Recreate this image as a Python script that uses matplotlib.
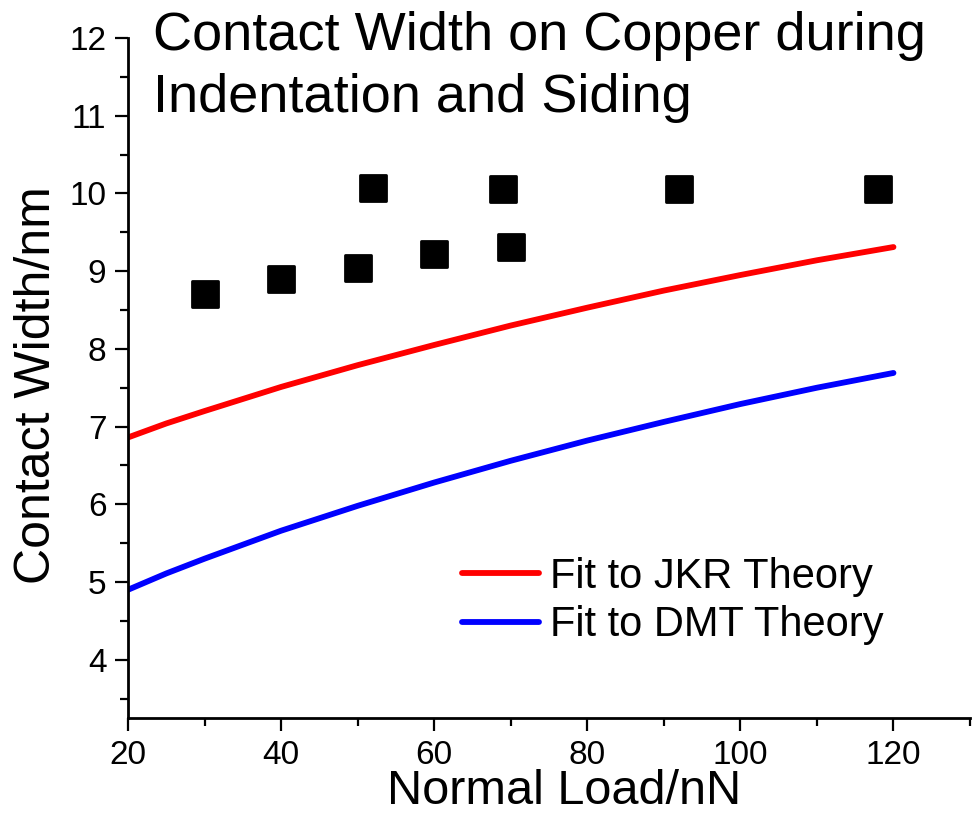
import numpy as np
import matplotlib
matplotlib.use("Agg")
import matplotlib.pyplot as plt
from matplotlib.markers import MarkerStyle
from matplotlib.ticker import MultipleLocator

plt.rcParams["font.family"] = ["Liberation Sans", "DejaVu Sans"]

# ── data ─────────────────────────────────────────────────────────────────────

# measured contact width (squares)
load_pts = [30, 40, 50, 60, 70, 52, 69, 92, 118]
width_pts = [8.70, 8.90, 9.04, 9.22, 9.31, 10.07, 10.06, 10.06, 10.06]

# fitted curves
load_fit = [20, 25, 30, 40, 50, 60, 70, 80, 90, 100, 110, 120]
jkr_fit = [6.86, 7.04, 7.20, 7.51, 7.79, 8.05, 8.30, 8.53, 8.75, 8.95, 9.14, 9.31]
dmt_fit = [4.90, 5.11, 5.30, 5.66, 5.98, 6.28, 6.56, 6.82, 7.06, 7.29, 7.50, 7.69]

TITLE = "Contact Width on Copper during\nIndentation and Siding"

# ── plot ─────────────────────────────────────────────────────────────────────

fig = plt.figure(figsize=(9.72, 8.27), dpi=100)
ax = fig.add_axes([128 / 972, 1 - 718 / 827, 842 / 972, 680 / 827])

ax.plot(load_fit, jkr_fit, color="#ff0000", linewidth=4.2,
        solid_capstyle="round", solid_joinstyle="round",
        label="Fit to JKR Theory")
ax.plot(load_fit, dmt_fit, color="#0000ff", linewidth=4.2,
        solid_capstyle="round", solid_joinstyle="round",
        label="Fit to DMT Theory")
ax.plot(load_pts, width_pts, linestyle="none",
        marker=MarkerStyle("s", joinstyle="round"), markersize=19,
        markerfacecolor="black", markeredgecolor="black", markeredgewidth=2)

ax.set_xlim(20, 130)
ax.set_ylim(3.25, 12)
ax.xaxis.set_major_locator(MultipleLocator(20))
ax.xaxis.set_minor_locator(MultipleLocator(10))
ax.yaxis.set_major_locator(MultipleLocator(1))
ax.yaxis.set_minor_locator(MultipleLocator(0.5))
ax.set_yticks(range(4, 13))

for side in ["top", "right"]:
    ax.spines[side].set_visible(False)
for side in ["left", "bottom"]:
    ax.spines[side].set_linewidth(2)

ax.tick_params(which="major", direction="out", length=9.5, width=1.6,
               labelsize=24, pad=6)
ax.tick_params(which="minor", direction="out", length=5.5, width=1.6)

ax.set_xlabel("Normal Load/nN", fontsize=35)
ax.set_ylabel("Contact Width/nm", fontsize=36)
ax.xaxis.set_label_coords(0.518, -0.075)
ax.yaxis.set_label_coords(-0.081, 0.49)

fig.text(153 / 972, 0.987, TITLE, fontsize=39, ha="left", va="top",
         linespacing=1.32)

ax.legend(loc="center left", bbox_to_anchor=(462 / 972, 1 - 601 / 827),
          bbox_transform=fig.transFigure, frameon=False, fontsize=30,
          handlelength=1.85, handletextpad=0.25, labelspacing=0.2,
          borderpad=0, borderaxespad=0)

fig.savefig("out.png", dpi=100)
